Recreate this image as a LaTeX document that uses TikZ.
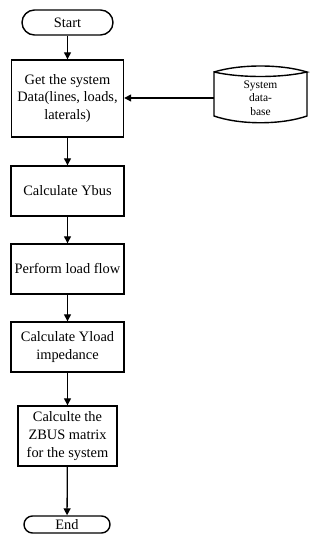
\documentclass[tikz,border=0pt]{standalone}
\usepackage{fontspec}
\setmainfont{Liberation Serif}
\usetikzlibrary{arrows.meta}
\begin{document}
\begin{tikzpicture}[x=1pt,y=1pt,
  box/.style={draw,line width=1.4pt,align=center,font=\fontsize{14.4}{17.8}\selectfont,inner sep=1pt},
  term/.style={draw,line width=1.4pt,rounded corners=#1,font=\fontsize{14.4}{17}\selectfont,inner sep=0pt},
  flow/.style={line width=1.3pt,-{Triangle[length=7pt,width=7pt]}}]
\useasboundingbox (0,0) rectangle (316,550);
\node[term=12.5pt,minimum width=91pt,minimum height=25pt] (start) at (67.5,527.5) {Start};
\node[box,minimum width=112pt,minimum height=77pt] (get) at (67.5,451.5) {Get the system\\Data(lines, loads,\\laterals)};
\node[box,minimum width=113pt,minimum height=50pt] (ybus) at (67.5,359) {Calculate Ybus};
\node[box,minimum width=113pt,minimum height=50pt] (lf) at (67.5,281) {Perform load flow};
\node[box,minimum width=113pt,minimum height=50pt] (yload) at (67.5,203) {Calculate Yload\\impedance};
\node[box,minimum width=99pt,minimum height=60pt] (zbus) at (67.5,114) {Calculte the\\ZBUS matrix\\for the system};
\node[term=8.5pt,minimum width=86pt,minimum height=17pt] (end) at (67,25.5) {End};
% database
\coordinate (dbW) at (214,452);
\draw[line width=1.4pt] (214,478) .. controls (240,486) and (281,486) .. (307,478)
  .. controls (281,472) and (240,472) .. (214,478) -- (214,434)
  .. controls (240,425) and (281,425) .. (307,434) -- (307,478);
\node[align=center,font=\fontsize{11.5}{13.5}\selectfont,inner sep=0pt] (db) at (260.5,452) {System\\data-\\base};
\draw[flow] (start) -- (get);
\draw[flow] (dbW) -- (get.east |- dbW);
\draw[flow] (get) -- (ybus);
\draw[flow] (ybus) -- (lf);
\draw[flow] (lf) -- (yload);
\draw[flow] (yload) -- (zbus);
\draw[flow] (zbus) -- (end);
\end{tikzpicture}
\end{document}
